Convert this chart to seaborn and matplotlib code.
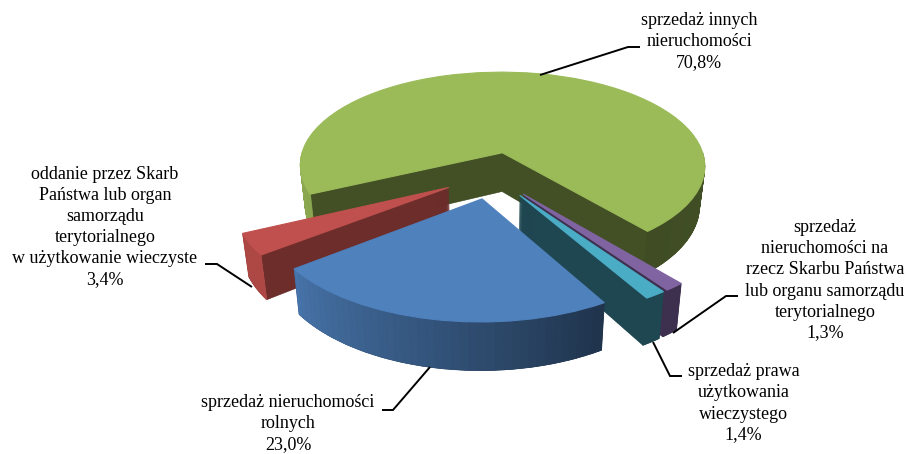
import numpy as np
import matplotlib
matplotlib.use("Agg")
import matplotlib.pyplot as plt
import matplotlib.transforms as mtransforms
import seaborn as sns

# --- data ---
names = ["sprzedaż innych\nnieruchomości\n70,8%",
         "oddanie przez Skarb\nPaństwa lub organ\nsamorządu\nterytorialnego\nw użytkowanie wieczyste\n3,4%",
         "sprzedaż nieruchomości\nrolnych\n23,0%",
         "sprzedaż prawa\nużytkowania\nwieczystego\n1,4%",
         "sprzedaż\nnieruchomości na\nrzecz Skarbu Państwa\nlub organu samorządu\nterytorialnego\n1,3%"]
values = [70.8, 3.4, 23.0, 1.4, 1.3]

# --- style ---
top_colors = ["#9BBB59", "#C0504D", "#4F81BD", "#4BACC6", "#8064A2"]
dark_factor = [0.43, 0.56, 0.43, 0.41, 0.48]
paint_order = [1, 4, 5, 3, 2]   # green, red, blue, cyan, purple
label_xy = [(699, 41.5), (105, 227), (288, 424), (743.5, 403.5), (825, 280.5)]
leaders = [[(540, 75), (628, 47), (640, 47)],
           [(252, 287), (217, 264), (205, 264)],
           [(430, 367), (393, 410), (382, 410)],
           [(653, 342), (670, 376), (682, 376)],
           [(673, 333), (726, 296), (738, 296)]]
CX, CY, A, B, P, D, SX = 492, 175, 207, 98, 0.1425, 40, 0.025

sns.set_theme(style="white")
plt.rcParams["font.family"] = ["Liberation Serif", "DejaVu Serif"]


class Tilt(mtransforms.Transform):
    """Perspective view of the pie plane, z=0 top face, z=1 bottom face."""
    input_dims = 2
    output_dims = 2
    is_separable = False
    has_inverse = False

    def __init__(self, z):
        super().__init__()
        self.z = z

    def transform_non_affine(self, values):
        v = np.asarray(values, dtype=float)
        w = 1 + P * v[:, 1]
        x = CX + A * v[:, 0] / w * (1 - SX * self.z)
        y = CY - B * v[:, 1] / w + D * self.z / w
        return np.column_stack([x, y])


def shade(color, f):
    return tuple(np.array(matplotlib.colors.to_rgb(color)) * f)


fig = plt.figure(figsize=(9.09, 4.54), dpi=100)
ax = fig.add_axes([0, 0, 1, 1])

pie_kw = dict(explode=[0.24] * len(values), startangle=-50, counterclock=True,
              radius=1.0, normalize=True)

# side walls: stacked pies from the bottom face upwards
for z in np.linspace(1, 0.04, 61):
    wedges, _ = ax.pie(values, wedgeprops=dict(linewidth=0.4), **pie_kw)
    for w, c, o, d in zip(wedges, top_colors, paint_order, dark_factor):
        w.set_facecolor(shade(c, d))
        w.set_edgecolor(shade(c, d))
        w.set_transform(Tilt(z) + ax.transData)
        w.set_zorder(o + 0.5 * (1 - z))

# top faces
wedges, _ = ax.pie(values, wedgeprops=dict(linewidth=0.8), **pie_kw)
for w, c, o in zip(wedges, top_colors, paint_order):
    w.set_facecolor(c)
    w.set_edgecolor(c)
    w.set_transform(Tilt(0) + ax.transData)
    w.set_zorder(o + 0.7)

# shaded outer rim strips on the front-facing arcs
t0, t1 = Tilt(0), Tilt(1)
for w, c, o, d in zip(wedges, top_colors, paint_order, dark_factor):
    cx0, cy0 = w.center
    angles = np.arange(w.theta1, w.theta2 + 0.5, 2.0)
    angles = np.append(angles[angles < w.theta2], w.theta2)
    for a, b in zip(angles[:-1], angles[1:]):
        mid = (a + b) / 2 % 360
        if mid < 180:
            continue
        f = np.interp(mid, [180, 217, 300, 360], [0.9, 0.9, 0.40, 0.43])
        if o in (3, 2):
            f = d
        pa = np.array([[cx0 + np.cos(np.radians(t)), cy0 + np.sin(np.radians(t))] for t in (a, b)])
        poly = np.vstack([t0.transform(pa), t1.transform(pa)[::-1]])
        ax.fill(poly[:, 0], poly[:, 1], color=shade(c, f), lw=0.6, zorder=o + 0.6)

# labels and leader lines
for name, (x, y), pts in zip(names, label_xy, leaders):
    ax.text(x, y, name, ha="center", va="center", fontsize=13.0, color="black",
            linespacing=1.31, zorder=10)
    pts = np.array(pts)
    ax.plot(pts[:, 0], pts[:, 1], color="black", lw=1.4, zorder=9,
            solid_capstyle="butt", solid_joinstyle="miter")

ax.set_aspect("auto")
ax.set_xlim(0, 909)
ax.set_ylim(454, 0)
ax.axis("off")
fig.savefig("out.png", dpi=100)
